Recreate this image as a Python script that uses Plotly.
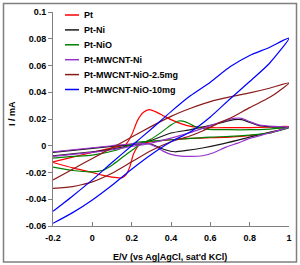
import plotly.graph_objects as go

# ---------------- data ----------------
series_names = ["Pt", "Pt-Ni", "Pt-NiO", "Pt-MWCNT-Ni", "Pt-MWCNT-NiO-2.5mg", "Pt-MWCNT-NiO-10mg"]

pt_E = [-0.2, -0.1, 0.0, 0.1, 0.17, 0.2, 0.23, 0.26, 0.29, 0.32, 0.36, 0.4, 0.45, 0.5, 0.6, 0.7, 0.8, 0.9, 1.0,
        0.9, 0.8, 0.7, 0.6, 0.5, 0.4, 0.3, 0.24, 0.21, 0.19, 0.17, 0.15, 0.1, 0.05, 0.0, -0.1, -0.2]
pt_I = [-0.012, -0.0085, -0.005, -0.0015, 0.001, 0.008, 0.019, 0.025, 0.027, 0.0255, 0.0225, 0.0195, 0.0165, 0.0145,
        0.0135, 0.0135, 0.0135, 0.014, 0.0145,
        0.0095, 0.0075, 0.0065, 0.006, 0.0055, 0.0045, 0.003, 0.001, -0.006, -0.016, -0.022, -0.024, -0.0235, -0.022,
        -0.020, -0.0165, -0.0125]

ptni_E = [-0.2, -0.1, 0.0, 0.1, 0.2, 0.3, 0.4, 0.5, 0.56, 0.65, 0.72, 0.76, 0.8, 0.85, 0.92, 1.0,
          0.9, 0.8, 0.74, 0.65, 0.56, 0.48, 0.42, 0.37, 0.32, 0.29, 0.2, 0.1, 0.0, -0.1, -0.2]
ptni_I = [-0.0075, -0.006, -0.0045, -0.0025, 0.0005, 0.004, 0.0095, 0.012, 0.014, 0.017, 0.0195, 0.0195, 0.0175,
          0.015, 0.014, 0.0135,
          0.010, 0.0065, 0.0042, 0.001, -0.0017, -0.0035, -0.0045, -0.003, 0.0, 0.0015, 0.001, -0.0005, -0.002,
          -0.0035, -0.005]

ptnio_E = [-0.2, -0.1, 0.0, 0.05, 0.1, 0.15, 0.2, 0.25, 0.3, 0.35, 0.4, 0.44, 0.48, 0.52, 0.58, 0.7, 0.8, 0.9, 1.0,
           0.9, 0.8, 0.7, 0.6, 0.5, 0.4, 0.3, 0.23, 0.125, 0.0, -0.1, -0.2]
ptnio_I = [-0.016, -0.0185, -0.0195, -0.0185, -0.0145, -0.009, -0.0035, 0.0015, 0.005, 0.010, 0.0155, 0.0185,
           0.0175, 0.0145, 0.0125, 0.012, 0.012, 0.0125, 0.0135,
           0.0095, 0.008, 0.007, 0.0065, 0.0055, 0.0045, 0.0035, 0.0027, -0.0032, -0.007, -0.008, -0.0092]

ptmwni_E = [-0.2, -0.1, 0.0, 0.1, 0.2, 0.3, 0.4, 0.5, 0.56, 0.65, 0.72, 0.76, 0.8, 0.85, 0.92, 1.0,
            0.9, 0.8, 0.74, 0.68, 0.62, 0.56, 0.5, 0.45, 0.4, 0.36, 0.32, 0.28, 0.2, 0.1, 0.0, -0.1, -0.2]
ptmwni_I = [-0.008, -0.0065, -0.005, -0.003, -0.0005, 0.002, 0.0057, 0.010, 0.013, 0.0175, 0.0205, 0.0205, 0.018,
            0.0155, 0.0145, 0.014,
            0.0095, 0.0055, 0.002, -0.001, -0.005, -0.0075, -0.008, -0.0078, -0.0065, -0.004, -0.0005, 0.0015,
            0.0015, 0.0, -0.0015, -0.003, -0.0045]

nio25_E = [-0.2, -0.1, 0.0, 0.1, 0.2, 0.3, 0.4, 0.5, 0.6, 0.7, 0.8, 0.9, 1.0,
           0.95, 0.9, 0.8, 0.7, 0.65, 0.56, 0.5, 0.4, 0.3, 0.2, 0.1, 0.0, -0.05, -0.1, -0.2]
nio25_I = [-0.0255, -0.0175, -0.0095, -0.0015, 0.0065, 0.0145, 0.022, 0.028, 0.033, 0.0365, 0.0395, 0.043, 0.047,
           0.041, 0.036, 0.0285, 0.0205, 0.0175, 0.011, 0.0075, 0.003, -0.0035, -0.012, -0.0205, -0.027, -0.029,
           -0.0305, -0.0318]

nio10_E = [-0.2, -0.1, 0.0, 0.1, 0.2, 0.3, 0.4, 0.5, 0.6, 0.7, 0.8, 0.9, 1.0,
           0.9, 0.8, 0.7, 0.6, 0.5, 0.4, 0.3, 0.2, 0.1, 0.0, -0.1, -0.2]
nio10_I = [-0.049, -0.0375, -0.0255, -0.0125, 0.0, 0.0125, 0.0255, 0.0375, 0.0475, 0.059, 0.0675, 0.0735, 0.0805,
           0.0615, 0.048, 0.035, 0.0215, 0.0105, 0.003, -0.0065, -0.0175, -0.0295, -0.0405, -0.050, -0.058]

x_tick_vals = [-0.2, 0, 0.2, 0.4, 0.6, 0.8, 1]
x_tick_text = ["-0.2", "0", "0.2", "0.4", "0.6", "0.8", "1"]
y_tick_vals = [-0.06, -0.04, -0.02, 0, 0.02, 0.04, 0.06, 0.08, 0.1]
y_tick_text = ["-0.06", "-0.04", "-0.02", "0", "0.02", "0.04", "0.06", "0.08", "0.1"]
x_title = "E/V (vs Ag|AgCl, sat'd KCl)"
y_title = "I / mA"

# ---------------- styling ----------------
colors = ["#FF0000", "#1A1A1A", "#008000", "#9932CC", "#8B1A1A", "#0000FF"]
FONT = "Liberation Sans, Arial, sans-serif"
W, H = 300, 265
L, R, T, B = 53, 11, 12, 39
pw, ph = W - L - R, H - T - B

xs = [pt_E, ptni_E, ptnio_E, ptmwni_E, nio25_E, nio10_E]
ys = [pt_I, ptni_I, ptnio_I, ptmwni_I, nio25_I, nio10_I]

fig = go.Figure()
for name, x, y, c in zip(series_names, xs, ys, colors):
    fig.add_trace(go.Scatter(x=x, y=y, mode="lines", name=name, showlegend=False,
                             line=dict(color=c, width=1.2, shape="spline", smoothing=0.6)))


def px_x(p):
    return (p - L) / pw


def px_y(p):
    return (H - B - p) / ph


bold9 = dict(family=FONT, size=9, color="#000", weight="bold")

# manual legend (compact, as in the reference)
shapes = []
annotations = []
for i, (name, c) in enumerate(zip(series_names, colors)):
    yy = px_y(15 + i * 14.9)
    shapes.append(dict(type="line", xref="paper", yref="paper", x0=px_x(65), x1=px_x(79), y0=yy, y1=yy,
                       line=dict(color=c, width=1.5)))
    annotations.append(dict(xref="paper", yref="paper", x=px_x(82), y=yy, xanchor="left", yanchor="middle",
                            text=name, showarrow=False, font=bold9))

# axis titles
annotations.append(dict(xref="paper", yref="paper", x=px_x(170), y=px_y(257), xanchor="center",
                        yanchor="middle", text=x_title, showarrow=False, font=bold9))
annotations.append(dict(xref="paper", yref="paper", x=px_x(12), y=px_y(114), xanchor="center",
                        yanchor="middle", text=y_title, showarrow=False, textangle=-90, font=bold9))

# outer frame
shapes.append(dict(type="rect", xref="paper", yref="paper", x0=px_x(3.5), x1=px_x(296.5), y0=px_y(262),
                   y1=px_y(3.5), line=dict(color="#7F7F7F", width=1.5), layer="below"))

fig.update_layout(
    width=W, height=H,
    margin=dict(l=L, r=R, t=T, b=B, pad=0, autoexpand=False),
    paper_bgcolor="white", plot_bgcolor="white",
    shapes=shapes, annotations=annotations,
    xaxis=dict(range=[-0.2, 1.0], tickvals=x_tick_vals, ticktext=x_tick_text, showgrid=False, zeroline=False,
               showline=True, linecolor="#808080", linewidth=1, ticks="inside", ticklen=4, tickcolor="#808080",
               tickfont=bold9, ticklabelstandoff=3, automargin=False),
    yaxis=dict(range=[-0.06, 0.1], tickvals=y_tick_vals, ticktext=y_tick_text, showgrid=False, zeroline=False,
               showline=True, linecolor="#808080", linewidth=1, ticks="outside", ticklen=4, tickcolor="#808080",
               tickfont=bold9, automargin=False),
)

fig.write_html("out.html")
